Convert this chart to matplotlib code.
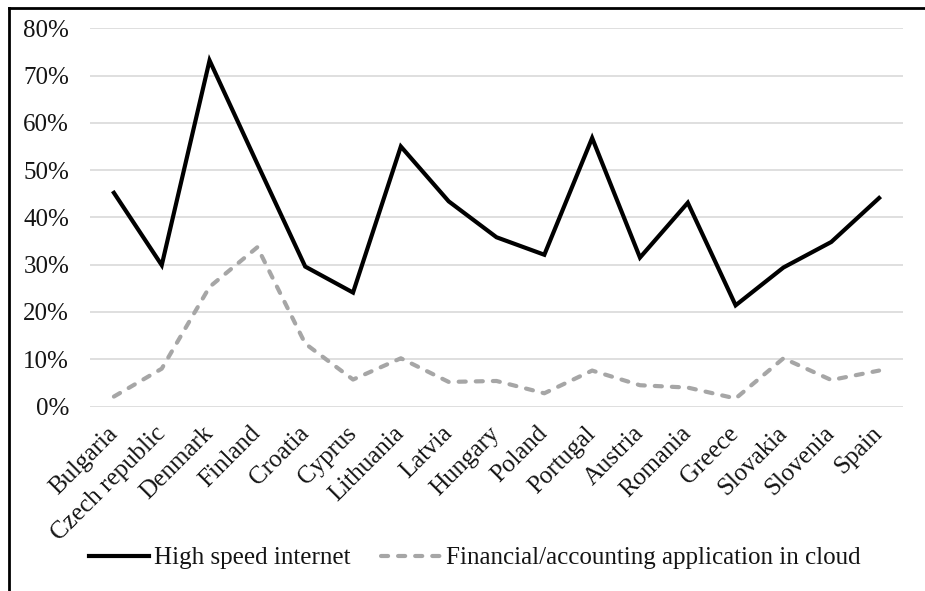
import matplotlib
matplotlib.use("Agg")
import matplotlib.pyplot as plt
from matplotlib.ticker import FuncFormatter, MultipleLocator
from matplotlib.lines import Line2D

countries = ["Bulgaria", "Czech republic", "Denmark", "Finland", "Croatia", "Cyprus",
             "Lithuania", "Latvia", "Hungary", "Poland", "Portugal", "Austria",
             "Romania", "Greece", "Slovakia", "Slovenia", "Spain"]
high_speed = [45.2, 29.9, 73.2, 51.3, 29.6, 24.1, 55.0, 43.4, 35.8, 32.1, 56.8, 31.5,
              43.1, 21.4, 29.4, 34.8, 44.1]
cloud_fin = [2.1, 8.0, 25.3, 33.7, 13.3, 5.7, 10.2, 5.2, 5.4, 2.8, 7.6, 4.5,
             4.0, 1.7, 10.2, 5.6, 7.6]

plt.rcParams['font.family'] = ['Liberation Serif', 'DejaVu Serif']

W, H = 925, 591
fig = plt.figure(figsize=(W / 100, H / 100), dpi=100)
ax = fig.add_axes([90 / W, 1 - 406.5 / H, (903 - 90) / W, (406.5 - 28.3) / H])

x = list(range(len(countries)))
ax.plot(x, high_speed, color="black", lw=3, solid_joinstyle="miter",
        label="High speed internet")
ax.plot(x, cloud_fin, color="#a6a6a6", lw=3, linestyle=(0, (1.7, 2.4)),
        dash_capstyle="round", label="Financial/accounting application in cloud")

ax.set_xlim(-0.5, len(countries) - 0.5)
ax.set_ylim(0, 80)
ax.yaxis.set_major_locator(MultipleLocator(10))
ax.yaxis.set_major_formatter(FuncFormatter(lambda v, p: f"{v:.0f}%"))
ax.grid(axis="y", color="#d9d9d9", lw=1.2)
ax.set_axisbelow(True)
for s in ax.spines.values():
    s.set_visible(False)
ax.tick_params(axis="both", length=0, labelsize=18, colors="#141414")
ax.tick_params(axis="y", pad=15)
ax.tick_params(axis="x", pad=17)
ax.set_xticks(x)
ax.set_xticklabels(countries, rotation=45, ha="right", va="center",
                   rotation_mode="anchor")

fig.legend(loc="center", bbox_to_anchor=(475 / W, 1 - 558 / H), ncol=2, frameon=False,
           fontsize=18, handlelength=2.4, handletextpad=0.2, columnspacing=1.2,
           labelcolor="#141414")

# figure border (left and top visible)
fig.add_artist(Line2D([8.5 / W, 8.5 / W], [0, 1 - 7.5 / H], transform=fig.transFigure,
                      color="black", lw=2))
fig.add_artist(Line2D([8.5 / W, 1], [1 - 7.5 / H, 1 - 7.5 / H], transform=fig.transFigure,
                      color="black", lw=2))

fig.savefig("out.png", dpi=100)
